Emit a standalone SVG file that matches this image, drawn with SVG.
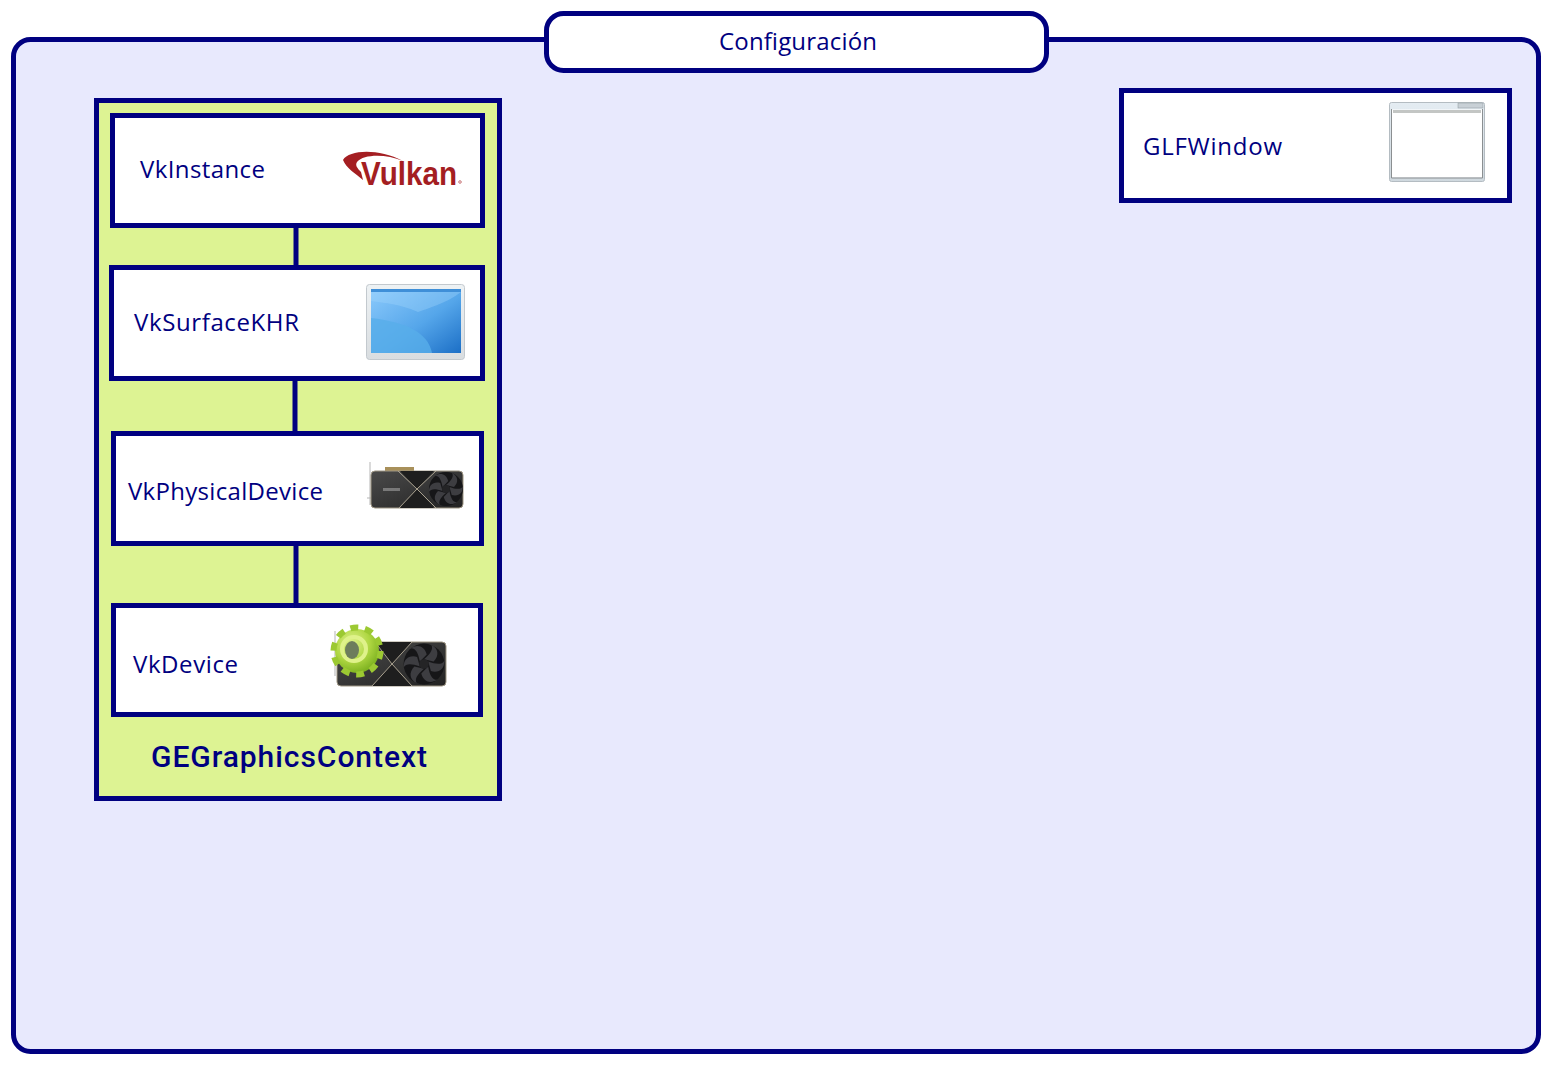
<svg xmlns="http://www.w3.org/2000/svg" xmlns:xlink="http://www.w3.org/1999/xlink" width="1550" height="1066" viewBox="0 0 1550 1066">
<style>
.box{stroke:#000080;stroke-width:5;fill:#fff}
.lbl{font-family:"Open Sans","Noto Sans",sans-serif;font-size:24px;fill:#000080}
.conn{stroke:#000080;stroke-width:5;fill:none}
</style>
<defs>
<linearGradient id="scr" x1="0" y1="0" x2="1" y2="1"><stop offset="0" stop-color="#8ccafc"/><stop offset=".55" stop-color="#55a6ea"/><stop offset="1" stop-color="#1c6fc6"/></linearGradient>
<linearGradient id="frm" x1="0" y1="0" x2="0" y2="1"><stop offset="0" stop-color="#eef2f4"/><stop offset="1" stop-color="#d9dde0"/></linearGradient>
<linearGradient id="body" x1="0" y1="0" x2="1" y2="1"><stop offset="0" stop-color="#4a4a4a"/><stop offset="1" stop-color="#232323"/></linearGradient>
<linearGradient id="win" x1="0" y1="0" x2="0" y2="1"><stop offset="0" stop-color="#e4ecf2"/><stop offset="1" stop-color="#cfd8de"/></linearGradient>
<radialGradient id="gearg" cx=".38" cy=".32" r=".75"><stop offset="0" stop-color="#dff28a"/><stop offset=".55" stop-color="#aed641"/><stop offset="1" stop-color="#74ab1a"/></radialGradient>
<g id="fan">
<circle r="17" fill="#161618"/>
<g fill="#3d3d41"><path id="bl" d="M0-4C6-9 8-13 6-16C12-13 13-7 8-2Z"/>
<use xlink:href="#bl" transform="rotate(60)"/><use xlink:href="#bl" transform="rotate(120)"/><use xlink:href="#bl" transform="rotate(180)"/><use xlink:href="#bl" transform="rotate(240)"/><use xlink:href="#bl" transform="rotate(300)"/></g>
<circle r="4" fill="#242426"/>
</g>
</defs>
<g id="configuracion-frame">
<rect x="13.500" y="39.500" width="1525" height="1012" rx="17" fill="#e8e9fd" stroke="#000080" stroke-width="5"/>
</g>
<g id="configuracion-title">
<rect class="box" x="546.500" y="13.500" width="500" height="57" rx="17"/>
<text class="lbl" x="719" y="50" textLength="158">Configuración</text>
</g>
<g id="GEGraphicsContext">
<rect x="96.500" y="100.500" width="403" height="698" fill="#ddf393" stroke="#000080" stroke-width="5"/>
<text x="151" y="767" font-family="Roboto,'Open Sans',sans-serif" font-size="30" font-weight="500" fill="#000080" textLength="276">GEGraphicsContext</text>
</g>
<g id="connectors">
<path class="conn" d="M296 226V267"/>
<path class="conn" d="M295 379V433"/>
<path class="conn" d="M296 544V605"/>
</g>
<g id="VkInstance">
<rect class="box" x="112.500" y="115.500" width="370" height="110"/>
<text class="lbl" x="140" y="178" textLength="125">VkInstance</text>
<path d="M343 160C349 150 378 148 403 161C386 154 364 154 357 162C355 165 357 168 361 172L363 180C355 173 346 168 343 160Z" fill="#a41e22"/>
<text x="361" y="185" font-family="'Liberation Sans',sans-serif" font-size="33" font-weight="700" fill="#a41e22" textLength="96" lengthAdjust="spacingAndGlyphs">Vulkan</text>
<circle cx="460" cy="182" r="1.300" fill="none" stroke="#a41e22" stroke-width=".6"/>
</g>
<g id="VkSurfaceKHR">
<rect class="box" x="111.500" y="267.500" width="371" height="111"/>
<text class="lbl" x="134" y="331" textLength="165">VkSurfaceKHR</text>
<rect x="366.500" y="284.500" width="98" height="75" rx="3" fill="url(#frm)" stroke="#c3c9ce"/>
<rect x="371" y="289" width="90" height="64" fill="url(#scr)"/>
<path d="M371 289H461V292H371Z" fill="#3f8fd8"/>
<path d="M371 318C405 322 428 332 432 353H371Z" fill="#58aeea" opacity=".8"/>
<path d="M371 292H461C445 304 428 308 418 312C400 304 385 303 371 301Z" fill="#a4d6fd" opacity=".35"/>
</g>
<g id="VkPhysicalDevice">
<rect class="box" x="113.500" y="433.500" width="368" height="110"/>
<text class="lbl" x="128" y="500" textLength="195">VkPhysicalDevice</text>
<path d="M370 462V505M367 498H371" stroke="#b5b5b5" stroke-width="1"/>
<rect x="385" y="467" width="29" height="4" fill="#a8905a"/>
<rect x="371" y="471" width="92" height="37" rx="4" fill="url(#body)" stroke="#9e9684" stroke-width="1"/>
<path d="M400 471H434L417 489L434 508H400L417 489Z" fill="#1e1e1e"/>
<path d="M398 471L417 489L399 508M436 471L417 489L436 508" fill="none" stroke="#a9a18f" stroke-width="1"/>
<use xlink:href="#fan" transform="translate(446 489)"/>
<rect x="383" y="488" width="17" height="3" fill="#c4c4c4" opacity=".45"/>
</g>
<g id="VkDevice">
<rect class="box" x="113.500" y="605.500" width="367" height="109"/>
<text class="lbl" x="133" y="673" textLength="105">VkDevice</text>
<path d="M335 631V676" stroke="#b5b5b5" stroke-width="1"/>
<rect x="337" y="642" width="109" height="44" rx="4" fill="url(#body)" stroke="#9e9684" stroke-width="1"/>
<path d="M374 642H412L392 664L412 686H372L392 664Z" fill="#1e1e1e"/>
<path d="M375 642L392 664L372 686M412 642L392 664L412 686" fill="none" stroke="#a9a18f" stroke-width="1"/>
<use xlink:href="#fan" transform="translate(424 664) scale(1.200)"/>
<circle cx="357" cy="651" r="22" fill="url(#gearg)"/>
<circle cx="357" cy="651" r="23.500" fill="none" stroke="#9cc932" stroke-width="6" stroke-dasharray="8 6.760"/>
<circle cx="354" cy="649" r="12" fill="none" stroke="#dff28a" stroke-width="4"/>
<ellipse cx="352" cy="650" rx="7" ry="9" fill="#6d7d5c"/>
</g>
<g id="GLFWindow">
<rect class="box" x="1121.500" y="90.500" width="388" height="110"/>
<text class="lbl" x="1143" y="155" textLength="139">GLFWindow</text>
<rect x="1389.500" y="102.500" width="95" height="79" rx="2" fill="url(#win)" stroke="#b4bcc2"/>
<rect x="1392" y="109.500" width="90" height="68" fill="#fff"/>
<path d="M1391.500 109V178H1482.500V109" fill="none" stroke="#8b8f91" stroke-width="1"/>
<rect x="1393" y="110" width="88" height="3" fill="#c3c6c4"/>
<rect x="1458" y="103" width="25" height="5" fill="#c8d0d6" stroke="#8d969c" stroke-width=".5"/>
</g>
</svg>
